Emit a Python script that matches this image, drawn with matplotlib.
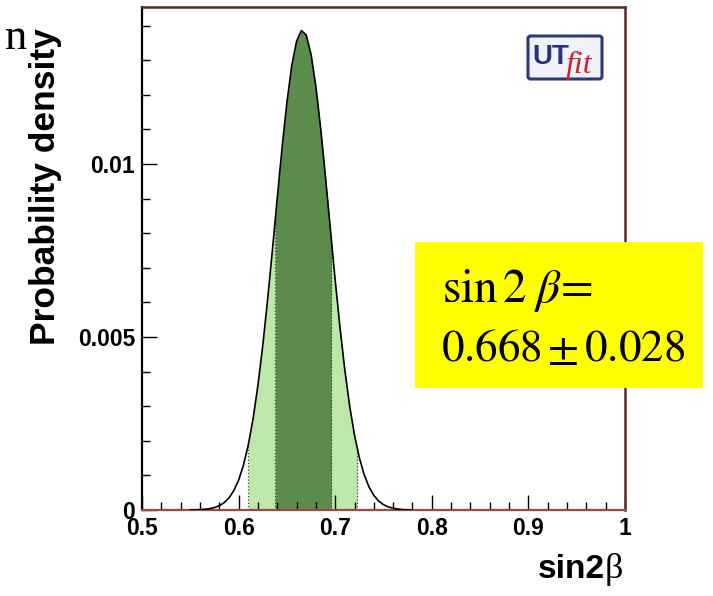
import numpy as np
import matplotlib
matplotlib.use("Agg")
import matplotlib.pyplot as plt
from matplotlib.patches import Rectangle, FancyBboxPatch
from matplotlib.ticker import MultipleLocator

# probability density of sin2beta
x_vals = [0.550, 0.555, 0.560, 0.565, 0.570, 0.575, 0.580, 0.585, 0.590, 0.595,
          0.600, 0.605, 0.610, 0.615, 0.620, 0.625, 0.630, 0.635, 0.640, 0.645,
          0.650, 0.655, 0.660, 0.665, 0.670, 0.675, 0.680, 0.685, 0.690, 0.695,
          0.700, 0.705, 0.710, 0.715, 0.720, 0.725, 0.730, 0.735, 0.740, 0.745,
          0.750, 0.755, 0.760, 0.765, 0.770, 0.775, 0.780]
density = [0.0, 0.000003, 0.000011, 0.000021, 0.000039, 0.000071, 0.000124, 0.000211,
           0.000348, 0.000557, 0.000862, 0.001293, 0.001877, 0.00264, 0.00360, 0.00475,
           0.00607, 0.00751, 0.00901, 0.01047, 0.01178, 0.01284, 0.01355, 0.01386,
           0.01373, 0.01317, 0.01224, 0.01102, 0.00961, 0.00812, 0.00664, 0.00526,
           0.00404, 0.00300, 0.00216, 0.00151, 0.00102, 0.000666, 0.00042, 0.000259,
           0.000154, 0.000089, 0.00005, 0.000027, 0.000011, 0.000004, 0.0]

band68 = (0.638, 0.696)
band95 = (0.610, 0.723)

x_ticks = [0.5, 0.6, 0.7, 0.8, 0.9, 1.0]
x_ticklabels = ["0.5", "0.6", "0.7", "0.8", "0.9", "1"]
y_ticks = [0.0, 0.005, 0.01]
y_ticklabels = ["0", "0.005", "0.01"]

plt.rcParams["mathtext.fontset"] = "stix"

W, H = 713, 596
fig = plt.figure(figsize=(W / 100, H / 100), dpi=100)
ax = fig.add_axes([142 / W, 1 - 510 / H, (625 - 142) / W, (510 - 7) / H])

xs = np.array(x_vals)
ys = np.array(density)


def fill_band(lo, hi, color):
    inner = (xs > lo) & (xs < hi)
    bx = np.concatenate([[lo], xs[inner], [hi]])
    by = np.concatenate([[np.interp(lo, xs, ys)], ys[inner], [np.interp(hi, xs, ys)]])
    ax.fill_between(bx, 0, by, color=color, lw=0, zorder=1)
    ax.vlines([lo, hi], 0, [by[0], by[-1]], colors="#2f4f2a", linestyles=":", lw=0.9, zorder=2)


fill_band(*band95, "#bde8aa")
fill_band(*band68, "#5b8c4b")
ax.plot(xs, ys, color="black", lw=1.2, zorder=3)

ax.set_xlim(0.5, 1.0)
ax.set_ylim(0, 0.01454)
ax.set_xticks(x_ticks)
ax.set_xticklabels(x_ticklabels)
ax.set_yticks(y_ticks)
ax.set_yticklabels(y_ticklabels)
ax.xaxis.set_minor_locator(MultipleLocator(0.02))
ax.yaxis.set_minor_locator(MultipleLocator(0.001))
ax.tick_params(which="both", direction="in", top=False, right=False)
ax.tick_params(which="major", length=11, width=1.0, pad=5)
ax.tick_params(which="minor", length=5.5, width=1.0)
for lab in ax.get_xticklabels() + ax.get_yticklabels():
    lab.set_fontfamily("Liberation Sans")
    lab.set_fontweight("bold")
    lab.set_fontsize(16.5)

ax.spines["left"].set_color("black")
ax.spines["left"].set_linewidth(1.6)
ax.spines["bottom"].set_color("#a04848")
ax.spines["bottom"].set_linewidth(1.6)
for s in ("top", "right"):
    ax.spines[s].set_color("#5c2828")
    ax.spines[s].set_linewidth(1.8)

# y label
fig.text(46 / W, 1 - 345 / H, "Probability density", rotation=90, ha="center", va="bottom",
         family="Liberation Sans", weight="bold", fontsize=25.5)

# x label
fig.text(605 / W, 1 - 578 / H, "sin2", ha="right", va="baseline",
         family="Liberation Sans", weight="bold", fontsize=24)
fig.text(605 / W, 1 - 578 / H, "β", ha="left", va="baseline",
         family="Liberation Serif", fontsize=26)

# cut-off slide text at top-left
fig.text(27 / W, 1 - 49 / H, "n", ha="right", va="baseline",
         family="Liberation Serif", fontsize=32)

# result box
fig.patches.append(Rectangle((415 / W, 1 - 388 / H), (703 - 415) / W, (388 - 242) / H,
                             transform=fig.transFigure, facecolor="#ffff00", edgecolor="none",
                             zorder=5))
fig.text(442 / W, 1 - 302 / H, r"$\mathrm{sin}\,2\;\beta\!=$", ha="left", va="baseline",
         fontsize=34, zorder=6)
fig.text(441 / W, 1 - 361 / H, r"$0.668\,{\pm}\,0.028$", ha="left", va="baseline",
         fontsize=32.5, zorder=6)

# UTfit logo
fig.patches.append(FancyBboxPatch((528 / W, 1 - 79 / H), (602 - 528) / W, (79 - 36) / H,
                                  boxstyle="round,pad=0,rounding_size=0.004",
                                  transform=fig.transFigure, facecolor="#f2f3fa",
                                  edgecolor="#2c3a7a", lw=2.2, zorder=5))
fig.text(532 / W, 1 - 64 / H, "UT", ha="left", va="baseline", family="Liberation Sans",
         weight="bold", fontsize=20, color="#26337c", zorder=6)
fig.text(566 / W, 1 - 73 / H, "fit", ha="left", va="baseline", family="Liberation Serif",
         style="italic", fontsize=23, color="#d02020", zorder=6)

fig.savefig("out.png", dpi=100)
